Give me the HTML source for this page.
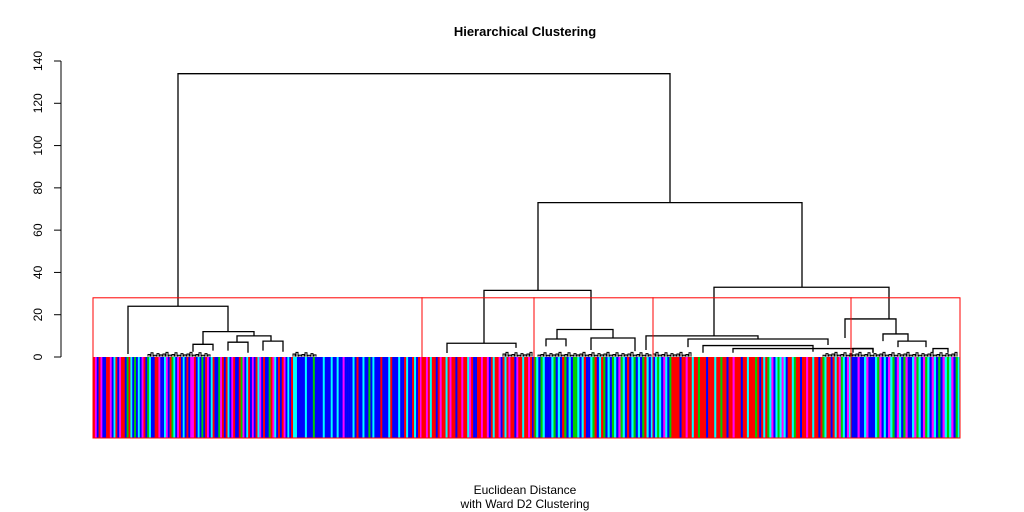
<!DOCTYPE html>
<html><head><meta charset="utf-8"><style>
html,body{margin:0;padding:0;background:#fff;}
svg{display:block;font-family:"Liberation Sans",Arial,sans-serif;}
</style></head><body>
<svg id="chart" width="1024" height="512">
<text x="525" y="36" text-anchor="middle" font-size="13" font-weight="bold">Hierarchical Clustering</text>
<text x="525" y="494" text-anchor="middle" font-size="12">Euclidean Distance</text>
<text x="525" y="508" text-anchor="middle" font-size="12">with Ward D2 Clustering</text>
<g id="bars"></g><g id="tree"></g><g id="boxes"></g><g id="axis"></g>
</svg>
<script>
// ---- data ----
const yTicks = [0,20,40,60,80,100,120,140];
const nLeaves = 867;
// merges: [leftX, rightX, mergeHeight, leftChildHeight, rightChildHeight] (x in leaf index units)
const merges = [
 [85,577,134,24,73],[445,709,73,31.5,33],[391,498,31.5,6.5,13],[621,796,33,10,18],
 [35,135,24,1.4,12],[110,161,12,6,10],[144,178,10,7,7.5],[100,120,6,2.5,3],[135,155,7,3,2],[170,190,7.5,3,2.5],
 [354,423,6.5,1.9,4.3],[464,520,13,8.5,9],[453,473,8.5,5,5],[498,542,9,3.3,2.8],
 [553,665,10,3.3,8.5],[595,735,8.5,4.7,5.7],[610,720,5.4,2,2.5],[640,780,4,2,2],
 [752,803,18,9,10.9],[790,815,10.9,7.5,7.5],[805,833,7.5,4.7,4.7],[760,780,4,2,2],[840,855,4,2,2]
];
// small clutter merges near leaves: start leaf, end leaf
const clutterRanges = [[55,120],[200,225],[410,440],[445,560],[560,600],[730,867]];
const clutterHeights = [1.2,2,0.8,1.6,1,1.4,2.2,0.9];
// cluster boundaries (leaf index) and cut height
const clusterEdges = [0,329,441,560,758,867];
const cutHeight = 28;
// leaf colour segments
const colorEdges = [0,200,329,441,560,758,867];
const leafColors = [
 "rmbrmbbrrmbcrbmrrbgrcbgbcbmrbgcbbrrmbbcmbrgcbmrbcbrbmmrbcbgbrmbcrbbgmrbrcbmrbbrgmbcrbmbrcmbrbbgrmcbrbrmbcbr",
 "ccbbbbcbbbgbbbbcbbbcbbcbbmbbbbcbrbbcbbgbcbbbrbbbcrbbbcbbrcbbrcbrm",
 "rrmrcrrbrmrrcrmrrbrrmrrcmrbbrrmrrmbrcrrmbrcrmrrbmrrcrrmrb",
 "gcbgcbbbcgbcbrgbcbggcbcrbbcgrbcrgbcbgcbmgcbrbcgbcbgrcbc",
 "bcgcbmcbgrrrrbrrmrrcrrgrrrbrrrcrrgrrbrrmrrrbrrcrrrgrbrcrgcmbcgcmcbrrcgrrbrrmrrcrrbrgcrrbrcrmgcbmc",
 "bbbmbbcmbbbcgmbcbmcgbmcbgmbbcmgcbmgcbmcbgbmcgcmbgc"
];
const palette = {r:"#ff0000",b:"#0000ff",c:"#00ffff",g:"#00cd00",m:"#ff00ff"};
// ---- scales ----
const X0=93, X1=960, Y0=357, Y140=61, BARBOT=438;
const xs = i => X0 + i*(X1-X0)/nLeaves;
const ys = v => Y0 - v*(Y0-Y140)/140;
const NS="http://www.w3.org/2000/svg";
function mk(tag, parent, attrs){const e=document.createElementNS(NS,tag);for(const k in attrs)e.setAttribute(k,attrs[k]);parent.appendChild(e);return e;}
// bars
const gb=document.getElementById('bars');
colorEdges.slice(0,-1).forEach((s,si)=>{
  const e=colorEdges[si+1], str=leafColors[si], w=(e-s)/str.length;
  for(let i=0;i<str.length;i++){
    const r=mk('rect',gb,{x:xs(s+i*w),y:ys(0),width:xs(s+(i+1)*w)-xs(s+i*w)+0.3,height:BARBOT-ys(0),fill:palette[str[i]]});
    
    
  }
});
// tree
const gt=document.getElementById('tree');
function u(m,name,sw){
  const p=mk('path',gt,{d:`M${xs(m[0])},${ys(m[3])}V${ys(m[2])}H${xs(m[1])}V${ys(m[4])}`,fill:'none',stroke:'#000','stroke-width':sw});
  
  
}
merges.forEach(m=>u(m,'dendrogram-merge',1.3));
let ci=0;
clutterRanges.forEach(([a,b])=>{
  for(let x=a;x<b-2;x+=3){const h=clutterHeights[ci++%clutterHeights.length];u([x,x+2,h,0.2,0.2],'leaf-merge',1);}
});
// boxes
const gx=document.getElementById('boxes');
clusterEdges.slice(0,-1).forEach((s,si)=>{
  const r=mk('rect',gx,{x:xs(s),y:ys(cutHeight),width:xs(clusterEdges[si+1])-xs(s),height:BARBOT-ys(cutHeight),fill:'none',stroke:'#ff0000','stroke-width':1});
  
  
});
// axis
const ga=document.getElementById('axis');
const al=mk('line',ga,{x1:61,x2:61,y1:ys(0),y2:ys(140),stroke:'#000'});


yTicks.forEach(t=>{
  const tk=mk('line',ga,{x1:54,x2:61,y1:ys(t),y2:ys(t),stroke:'#000'});
  
  
  const tx=mk('text',ga,{x:0,y:0,'font-size':12,'text-anchor':'middle',transform:`translate(42,${ys(t)}) rotate(-90)`});
  tx.textContent=t;
  
  
});
</script>
</body></html>
